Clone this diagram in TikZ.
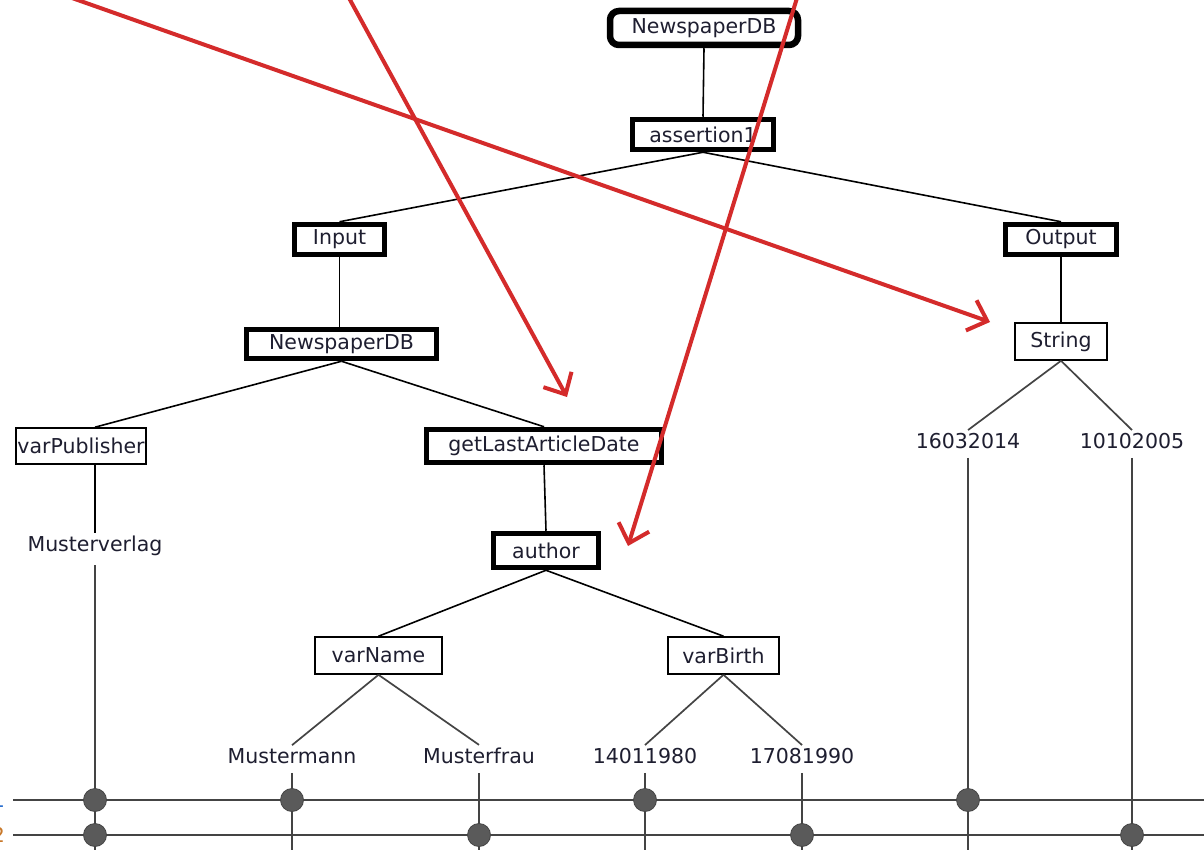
\documentclass[tikz,border=0pt]{standalone}
\usepackage{fontspec}
\setmainfont{DejaVu Sans}
\usetikzlibrary{arrows.meta,calc}
\definecolor{txt}{HTML}{1E1E30}
\definecolor{redarr}{HTML}{D42B2B}
\definecolor{grayline}{HTML}{444444}
\definecolor{dotfill}{HTML}{5A5A5A}
\definecolor{lblblue}{HTML}{2A6FD0}
\definecolor{lblorange}{HTML}{C8782A}
\begin{document}
\begin{tikzpicture}[x=1pt,y=-1pt,
  every node/.style={font=\fontsize{20.5}{25}\selectfont, text=txt},
  thickbox/.style={draw=black, line width=5.5pt, fill=white, inner sep=0pt},
  thinbox/.style={draw=black, line width=1.6pt, fill=white, inner sep=0pt},
  leaf/.style={inner sep=3pt},
  treeedge/.style={draw=black, line width=1.6pt},
  lowedge/.style={draw=grayline, line width=1.7pt},
  rowline/.style={draw=grayline, line width=2.8pt},
  dot/.style={circle, fill=dotfill, draw=grayline, line width=0.8pt, minimum size=23pt, inner sep=0pt},
  redarrow/.style={draw=redarr, line width=4pt, -{Straight Barb[length=17pt,width=32pt,line width=4pt]}}
]
\useasboundingbox (0,0) rectangle (1204,850);
\fill[white] (0,0) rectangle (1204,850);

% nodes
\node[thickbox, line width=6.5pt, rounded corners=9pt, minimum width=188pt, minimum height=34pt] (ndb) at (704,28) {NewspaperDB};
\node[thickbox, minimum width=141pt, minimum height=30pt] (as) at (703,134.5) {assertion1};
\node[thickbox, minimum width=90pt, minimum height=30pt] (inp) at (339.5,239.5) {Input};
\node[thickbox, minimum width=111pt, minimum height=30pt] (out) at (1061,239.5) {Output};
\node[thickbox, minimum width=190pt, minimum height=29pt] (ndb2) at (341.5,344) {NewspaperDB};
\node[thinbox, minimum width=92pt, minimum height=37pt] (str) at (1061,341.5) {String};
\node[thinbox, minimum width=130pt, minimum height=36pt] (vp) at (81,446) {varPublisher};
\node[thickbox, minimum width=235pt, minimum height=33pt] (gl) at (544,446) {getLastArticleDate};
\node[thickbox, minimum width=105pt, minimum height=34pt] (au) at (546,550.5) {author};
\node[thinbox, minimum width=127pt, minimum height=37pt] (vn) at (378.5,655.5) {varName};
\node[thinbox, minimum width=111pt, minimum height=37pt] (vb) at (723.5,655.5) {varBirth};

\node[leaf] (s1) at (968,441) {16032014};
\node[leaf] (s2) at (1132,441) {10102005};
\node[leaf] (mv) at (95,546) {Musterverlag};
\node[leaf] (mm) at (292,756) {Mustermann};
\node[leaf] (mf) at (479,756) {Musterfrau};
\node[leaf] (d1) at (645,756) {14011980};
\node[leaf] (d2) at (802,756) {17081990};

% tree edges
\draw[treeedge] (ndb.south) -- (as.north);
\draw[treeedge] (as.south) -- (inp.north);
\draw[treeedge] (as.south) -- (out.north);
\draw[treeedge] (inp.south) -- (inp.south |- ndb2.north);
\draw[treeedge] (out.south) -- (str.north);
\draw[treeedge] (ndb2.south) -- (vp.north -| mv);
\draw[treeedge] (ndb2.south) -- (gl.north);
\draw[treeedge] (gl.south) -- (au.north);
\draw[treeedge] (au.south) -- (vn.north);
\draw[treeedge] (au.south) -- (vb.north);
\draw[lowedge] (vn.south) -- (mm.north);
\draw[lowedge] (vn.south) -- (mf.north);
\draw[lowedge] (vb.south) -- (d1.north);
\draw[lowedge] (vb.south) -- (d2.north);
\draw[lowedge] (str.south) -- (s1.north);
\draw[lowedge] (str.south) -- (s2.north);
\draw[treeedge] (vp.south -| mv) -- (mv.north);

% row lines
\coordinate (bot) at (0,852);
\coordinate (r1s) at (13,800);
\coordinate (r1e) at (1206,800);
\coordinate (r2s) at (13,835);
\coordinate (r2e) at (1206,835);
\draw[rowline] (r1s) -- (r1e);
\draw[rowline] (r2s) -- (r2e);

% verticals
\foreach \n in {mv,mm,mf,d1,d2,s1,s2}{
  \draw[treeedge, draw=grayline, line width=1.9pt] ([yshift=-6pt]\n.south) -- (\n |- bot);
}

% dots
\node[dot] (p1a) at (mv |- r1s) {};
\node[dot] (p1b) at (mm |- r1s) {};
\node[dot] (p1c) at (d1 |- r1s) {};
\node[dot] (p1d) at (s1 |- r1s) {};
\node[dot] (p2a) at (mv |- r2s) {};
\node[dot] (p2b) at (mf |- r2s) {};
\node[dot] (p2c) at (d2 |- r2s) {};
\node[dot] (p2d) at (s2 |- r2s) {};

% partial row labels
\node[anchor=east, text=lblblue, inner sep=0pt] (l1) at (5,800) {1};
\node[anchor=east, text=lblorange, inner sep=0pt] (l2) at (5,835) {2};

% red arrows
\coordinate (a1s) at (72,-2);
\coordinate (a1e) at (990,322);
\coordinate (a2s) at (349,-2);
\coordinate (a2e) at (567,397);
\coordinate (a3s) at (797,-2);
\coordinate (a3e) at (628,546);
\draw[redarrow] (a1s) -- (a1e);
\draw[redarrow] (a2s) -- (a2e);
\draw[redarrow] (a3s) -- (a3e);
\end{tikzpicture}
\end{document}
